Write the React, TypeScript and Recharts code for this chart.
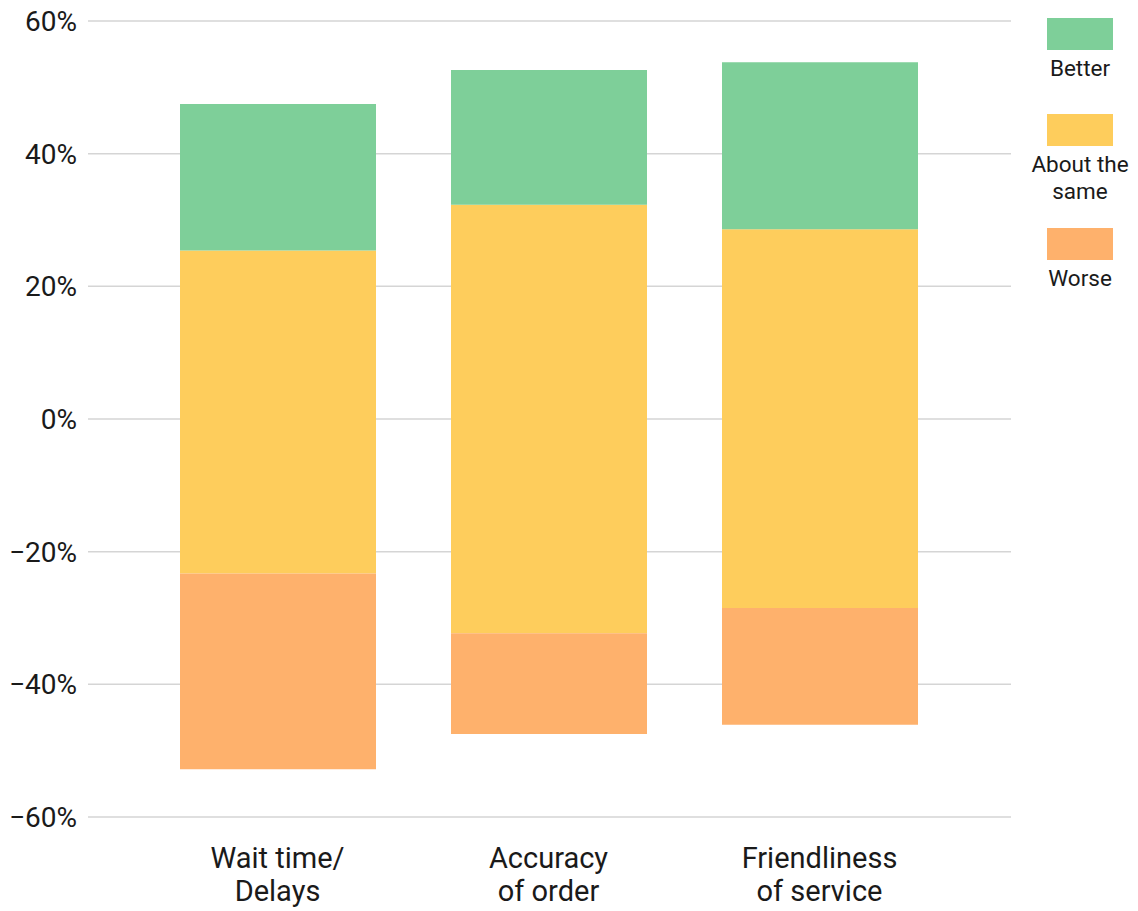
import { BarChart, Bar, XAxis, YAxis, CartesianGrid } from 'recharts';

// survey answers, split around zero: "about the same" is shared between both sides
const categories = ['Wait time/\nDelays', 'Accuracy\nof order', 'Friendliness\nof service'];
const better = [22.1, 20.3, 25.2];
const sameAbove = [25.4, 32.3, 28.6];
const sameBelow = [-23.3, -32.3, -28.5];
const worse = [-29.5, -15.2, -17.6];
const yTicks = [-60, -40, -20, 0, 20, 40, 60];

const GREEN = '#7ecf99';
const YELLOW = '#fecd5c';
const ORANGE = '#feb16c';
const INK = '#1a1a1a';
const FONT = 'Roboto, sans-serif';

const legendItems = [
  { label: ['Better'], color: GREEN, top: 18 },
  { label: ['About the', 'same'], color: YELLOW, top: 114 },
  { label: ['Worse'], color: ORANGE, top: 228 },
];

const data = categories.map((category, i) => ({
  category,
  better: better[i],
  sameAbove: sameAbove[i],
  sameBelow: sameBelow[i],
  worse: worse[i],
}));

const pct = (v: number) => `${v < 0 ? '\u2212' : ''}${Math.abs(v)}%`;

function CategoryTick({ x, y, payload }: any) {
  const lines = String(payload.value).split('\n');
  return (
    <text x={x} y={y} textAnchor="middle" fill={INK} fontSize={29} fontFamily={FONT}>
      {lines.map((line, i) => (
        <tspan key={i} x={x} dy={i === 0 ? 43 : 33}>{line}</tspan>
      ))}
    </text>
  );
}

function SideLegend() {
  return (
    <div style={{ position: 'absolute', left: 1022, top: 0, width: 116 }}>
      {legendItems.map((item) => (
        <div key={item.label.join(' ')} style={{ position: 'absolute', top: item.top, left: 0, width: 116, textAlign: 'center' }}>
          <div style={{ width: 66, height: 32, background: item.color, margin: '0 auto' }} />
          <div style={{ fontFamily: FONT, fontSize: 22.5, lineHeight: '26.5px', color: INK, marginTop: 5 }}>
            {item.label.map((l) => <div key={l}>{l}</div>)}
          </div>
        </div>
      ))}
    </div>
  );
}

export default function App() {
  return (
    <div style={{ position: 'absolute', left: 0, top: 0, width: 1138, height: 911, background: '#fff' }}>
      <BarChart
        width={1138}
        height={911}
        data={data}
        stackOffset="sign"
        barSize={196}
        margin={{ top: 21, right: 127, bottom: 0, left: 0 }}
      >
        <CartesianGrid vertical={false} stroke="#d5d5d5" strokeWidth={1.5} />
        <XAxis
          dataKey="category"
          axisLine={false}
          tickLine={false}
          height={94}
          interval={0}
          padding={{ left: 54, right: 56 }}
          tick={<CategoryTick />}
        />
        <YAxis
          type="number"
          domain={[-60, 60]}
          ticks={yTicks}
          width={88}
          axisLine={false}
          tickLine={false}
          tickMargin={5}
          tickFormatter={pct}
          tick={{ fontSize: 28, fill: INK, fontFamily: FONT }}
        />
        <Bar dataKey="sameBelow" stackId="s" fill={YELLOW} isAnimationActive={false} />
        <Bar dataKey="worse" stackId="s" fill={ORANGE} isAnimationActive={false} />
        <Bar dataKey="sameAbove" stackId="s" fill={YELLOW} isAnimationActive={false} />
        <Bar dataKey="better" stackId="s" fill={GREEN} isAnimationActive={false} />
      </BarChart>
      <SideLegend />
    </div>
  );
}
